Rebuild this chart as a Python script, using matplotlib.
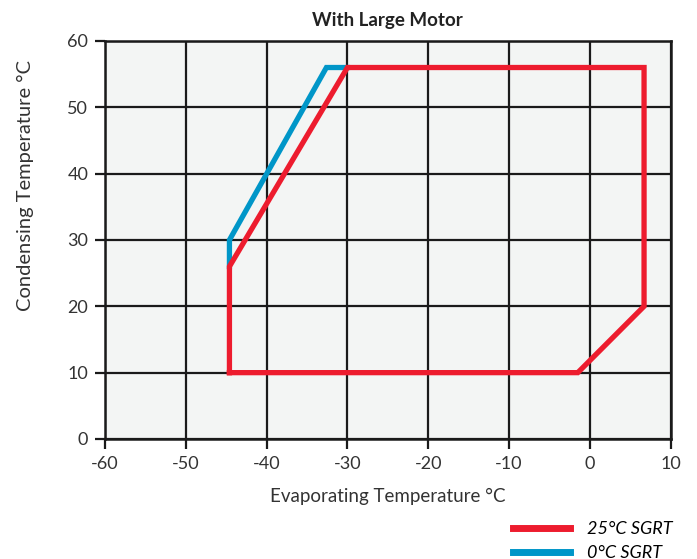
import matplotlib.pyplot as plt
from matplotlib.lines import Line2D

plt.rcParams['font.family'] = ['Lato', 'DejaVu Sans']
plt.rcParams['axes.unicode_minus'] = False

# envelope for 25°C suction gas return temperature
red_evap = [-44.6, -44.6, -30, 6.7, 6.7, -1.5, -44.6]
red_cond = [10, 26, 56, 56, 20, 10, 10]

# extension for 0°C SGRT
blue_evap = [-44.6, -44.6, -32.6, -30]
blue_cond = [26, 30, 56, 56]

labels = ["25°C SGRT", "0°C SGRT"]
red = "#ED1C2E"
blue = "#0096C8"

fig = plt.figure(figsize=(6.97, 5.59), dpi=100)
ax = fig.add_axes([0.1506, 0.2147, 0.8117, 0.712])
ax.set_facecolor("#F3F5F4")

ax.plot(blue_evap, blue_cond, color=blue, lw=3.8, solid_joinstyle="miter", zorder=3)
ax.plot(red_evap, red_cond, color=red, lw=3.8, solid_joinstyle="miter", zorder=4)

ax.set_xlim(-60, 10)
ax.set_ylim(0, 60)
ax.set_xticks(range(-60, 11, 10))
ax.set_yticks(range(0, 61, 10))
ax.grid(True, color="#1a1a1a", lw=1.6, zorder=1)
ax.set_axisbelow(True)
for s in ax.spines.values():
    s.set_linewidth(1.8)
    s.set_color("#1a1a1a")
ax.tick_params(direction="out", length=7, width=1.6, color="#1a1a1a",
               labelsize=13, labelcolor="#333333", pad=5)

ax.set_xlabel("Evaporating Temperature °C", fontsize=13.5, color="#333333", labelpad=12)
ax.set_ylabel("Condensing Temperature °C", fontsize=14.5, color="#333333")
ax.yaxis.set_label_coords(-0.125, 0.636)
ax.set_title("With Large Motor", fontsize=13.5, fontweight="bold", color="#222222", pad=11)

handles = [Line2D([], [], color=red, lw=5), Line2D([], [], color=blue, lw=5)]
fig.legend(handles, labels, loc="upper left", bbox_to_anchor=(0.712, 0.097),
           frameon=False, handlelength=3.2, handletextpad=0.9, labelspacing=0.45,
           prop={"style": "italic", "size": 13})

fig.savefig("out.png", dpi=100)
